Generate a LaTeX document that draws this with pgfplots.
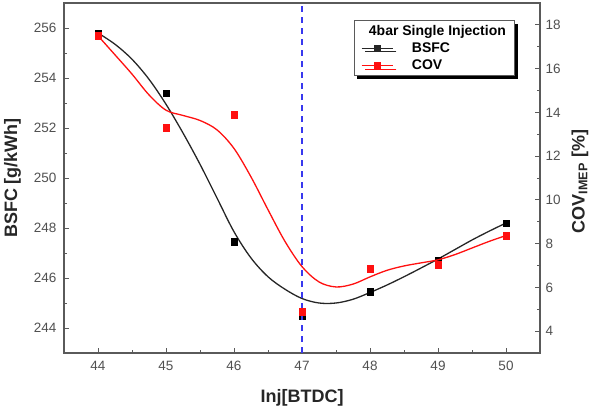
\documentclass[border=0pt]{standalone}
\usepackage{fontspec}
\setmainfont{Liberation Sans}
\usepackage{pgfplots}
\pgfplotsset{compat=1.18}
\usetikzlibrary{shadows}
\definecolor{tickgray}{HTML}{505050}
\definecolor{axgray}{HTML}{5A5A5A}
\definecolor{dashblue}{HTML}{3838EE}
\definecolor{covred}{HTML}{FF1010}

\begin{document}
\begin{tikzpicture}
\pgfplotsset{
  common/.style={
    scale only axis, width=476pt, height=350pt,
    xmin=43.5, xmax=50.5,
    /pgf/number format/assume math mode=true,
    tick label style={font=\fontsize{13.5}{15}\selectfont, color=tickgray},
    label style={font=\bfseries\fontsize{18}{20}\selectfont, color=black!85},
    axis line style={axgray, line width=1.2pt},
    major tick length=5pt, minor tick length=3pt,
    every tick/.style={axgray, line width=0.8pt},
    tick align=inside,
  },
  legimg/.style={legend image code/.code={%
    \draw[mark repeat=2,mark phase=2] plot coordinates {(0cm,0cm) (0.55cm,0cm) (1.1cm,0cm)};}}
}
\begin{axis}[common, name=ax,
  ymin=243, ymax=257,
  xtick={44,...,50}, minor x tick num=1,
  ytick={244,246,...,256}, minor y tick num=1,
  xtick pos=bottom, ytick pos=left,
  xticklabel style={yshift=-5pt},
  yticklabel style={xshift=-4pt},
  xlabel={Inj[BTDC]}, ylabel={BSFC [g/kWh]},
  xlabel style={at={(axis description cs:0.5,-0.1286)}, anchor=center},
  ylabel style={at={(axis description cs:-0.108,0.5)}, anchor=center},
]
% BSFC fitted curve
\addplot[black!85, line width=1.3pt, smooth, tension=0.55] coordinates {
(44,255.8) (44.25,255.35) (44.5,254.75) (44.75,253.95) (45,252.95)
(45.25,251.8) (45.5,250.55) (45.75,249.2) (46,247.85) (46.25,246.8)
(46.5,246.05) (46.75,245.55) (47,245.18) (47.25,245.0) (47.5,245.0)
(47.75,245.15) (48,245.42) (48.25,245.72) (48.5,246.05) (48.75,246.4)
(49,246.76) (49.25,247.14) (49.5,247.52) (49.75,247.87) (50,248.2)};
% BSFC measured points
\addplot[only marks, mark=square*, mark size=3.3pt, black] coordinates {
(44,255.8) (45,253.4) (46,247.45) (47,244.5) (48,245.45) (49,246.7) (50,248.2)};
\end{axis}

\begin{axis}[common,
  ymin=3, ymax=19, ytick={4,6,...,18}, minor y tick num=1,
  axis y line*=right, axis x line=none,
  yticklabel style={xshift=2pt},
  ylabel={\textbf{COV}\textsubscript{\textbf{IMEP}} \textbf{[\%]}},
  ylabel style={at={(axis description cs:1.084,0.49)}, anchor=center},
  legend cell align=left,
  legend style={at={(0.947,0.951)}, anchor=north east, draw=axgray, fill=white,
    font=\bfseries\fontsize{14}{16}\selectfont, nodes={inner sep=1.5pt},
    row sep=3pt, inner xsep=7pt, inner ysep=3pt, line width=0.8pt,
    drop shadow={shadow xshift=3.5pt, shadow yshift=-3.5pt, fill=black, opacity=1}},
]
\addlegendimage{empty legend}
\addlegendentry{\hspace*{-26pt}4bar Single Injection}
\addlegendimage{black!85, line width=1.2pt, mark=square*, mark size=3pt, legimg}
\addlegendentry{\hspace*{17pt}BSFC}
\addlegendimage{covred, line width=1.2pt, mark=square*, mark size=3pt, legimg}
\addlegendentry{\hspace*{17pt}COV}
% COV fitted curve
\addplot[covred, line width=1.3pt, smooth, tension=0.55, forget plot] coordinates {
(44,17.5) (44.25,16.63) (44.5,15.75) (44.75,14.8) (45,14.1)
(45.25,13.86) (45.5,13.63) (45.75,13.2) (46,12.35) (46.25,11.05)
(46.5,9.55) (46.75,8.1) (47,6.95) (47.25,6.25) (47.5,6.02)
(47.75,6.15) (48,6.48) (48.25,6.78) (48.5,6.98) (48.75,7.12)
(49,7.26) (49.25,7.5) (49.5,7.8) (49.75,8.1) (50,8.37)};
% COV measured points
\addplot[only marks, mark=square*, mark size=3.3pt, covred, forget plot] coordinates {
(44,17.5) (45,13.3) (46,13.9) (47,4.9) (48,6.85) (49,7.04) (50,8.37)};
% vertical dashed marker
\addplot[dashblue, line width=1.8pt, dash pattern=on 6pt off 5pt, forget plot] coordinates {(47,3) (47,19)};
\end{axis}
\pgfresetboundingbox
\path ([shift={(-64pt,-52pt)}]ax.south west) rectangle ([shift={(55pt,3pt)}]ax.north east);
\end{tikzpicture}
\end{document}
